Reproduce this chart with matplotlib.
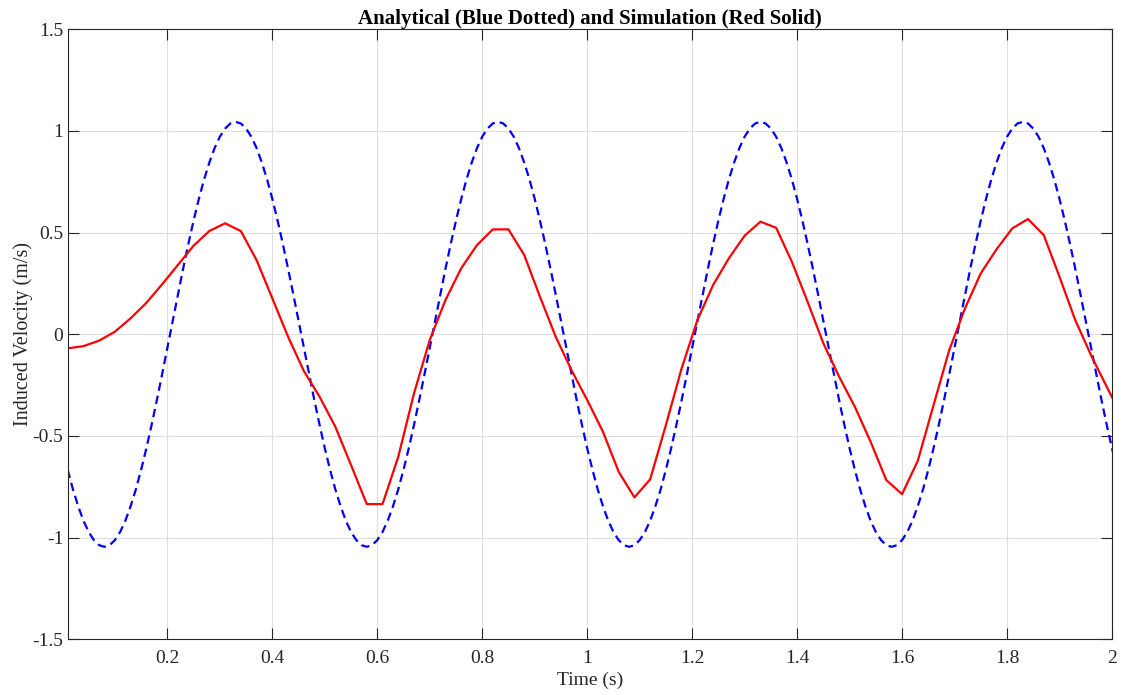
#%% libraries
import matplotlib
matplotlib.use("Agg")
import matplotlib.pyplot as plt
import numpy as np

#%% data
# simulation samples, one every 0.03 s starting at 0.01 s
t_sim = np.round(0.01 + 0.03 * np.arange(68), 2)
v_sim = [-0.069, -0.058, -0.031, 0.013, 0.079, 0.155, 0.246, 0.341, 0.436, 0.508,
         0.546, 0.508, 0.365, 0.177, -0.012, -0.180, -0.307, -0.454, -0.643, -0.835,
         -0.835, -0.602, -0.290, -0.028, 0.169, 0.325, 0.439, 0.516, 0.516, 0.390,
         0.185, -0.012, -0.176, -0.323, -0.479, -0.676, -0.802, -0.713, -0.446, -0.167,
         0.070, 0.243, 0.374, 0.485, 0.554, 0.524, 0.357, 0.160, -0.044, -0.208,
         -0.356, -0.528, -0.717, -0.786, -0.622, -0.348, -0.077, 0.128, 0.300, 0.418,
         0.521, 0.567, 0.488, 0.283, 0.070, -0.102, -0.258, -0.410]

# analytical curve, one sample every 0.01 s starting at 0.01 s
t_ana = np.round(0.01 + 0.01 * np.arange(201), 2)
v_ana = [
    -0.666, -0.762, -0.845, -0.916, -0.972, -1.012, -1.037, -1.045, -1.037, -1.012,
    -0.972, -0.916, -0.845, -0.762, -0.666, -0.560, -0.445, -0.323, -0.196, -0.066,
    0.066, 0.196, 0.323, 0.445, 0.560, 0.666, 0.762, 0.845, 0.916, 0.972,
    1.012, 1.037, 1.045, 1.037, 1.012, 0.972, 0.916, 0.845, 0.762, 0.666,
    0.560, 0.445, 0.323, 0.196, 0.066, -0.066, -0.196, -0.323, -0.445, -0.560,
    -0.666, -0.762, -0.845, -0.916, -0.972, -1.012, -1.037, -1.045, -1.037, -1.012,
    -0.972, -0.916, -0.845, -0.762, -0.666, -0.560, -0.445, -0.323, -0.196, -0.066,
    0.066, 0.196, 0.323, 0.445, 0.560, 0.666, 0.762, 0.845, 0.916, 0.972,
    1.012, 1.037, 1.045, 1.037, 1.012, 0.972, 0.916, 0.845, 0.762, 0.666,
    0.560, 0.445, 0.323, 0.196, 0.066, -0.066, -0.196, -0.323, -0.445, -0.560,
    -0.666, -0.762, -0.845, -0.916, -0.972, -1.012, -1.037, -1.045, -1.037, -1.012,
    -0.972, -0.916, -0.845, -0.762, -0.666, -0.560, -0.445, -0.323, -0.196, -0.066,
    0.066, 0.196, 0.323, 0.445, 0.560, 0.666, 0.762, 0.845, 0.916, 0.972,
    1.012, 1.037, 1.045, 1.037, 1.012, 0.972, 0.916, 0.845, 0.762, 0.666,
    0.560, 0.445, 0.323, 0.196, 0.066, -0.066, -0.196, -0.323, -0.445, -0.560,
    -0.666, -0.762, -0.845, -0.916, -0.972, -1.012, -1.037, -1.045, -1.037, -1.012,
    -0.972, -0.916, -0.845, -0.762, -0.666, -0.560, -0.445, -0.323, -0.196, -0.066,
    0.066, 0.196, 0.323, 0.445, 0.560, 0.666, 0.762, 0.845, 0.916, 0.972,
    1.012, 1.037, 1.045, 1.037, 1.012, 0.972, 0.916, 0.845, 0.762, 0.666,
    0.560, 0.445, 0.323, 0.196, 0.066, -0.066, -0.196, -0.323, -0.445, -0.560,
    -0.666]

x_ticks = [0.2, 0.4, 0.6, 0.8, 1.0, 1.2, 1.4, 1.6, 1.8, 2.0]
x_labels = ["0.2", "0.4", "0.6", "0.8", "1", "1.2", "1.4", "1.6", "1.8", "2"]
y_ticks = [-1.5, -1.0, -0.5, 0.0, 0.5, 1.0, 1.5]
y_labels = ["-1.5", "-1", "-0.5", "0", "0.5", "1", "1.5"]

#%% plotting
plt.rcParams['font.family'] = ['Liberation Serif', 'DejaVu Serif']

fig = plt.figure(figsize=(11.24, 6.95), dpi=100)
ax = fig.add_axes([0.0602, 0.0801, 0.9291, 0.8777])

ax.plot(t_ana, v_ana, color='blue', lw=1.6, ls=(0, (3.8, 2.3)))
ax.plot(t_sim, v_sim, color='red', lw=1.6)

ax.set_xlim(0.01, 2.0)
ax.set_ylim(-1.5, 1.5)
ax.set_xticks(x_ticks)
ax.set_xticklabels(x_labels)
ax.set_yticks(y_ticks)
ax.set_yticklabels(y_labels)

ax.grid(True, color='#dedede', lw=0.8)
ax.set_axisbelow(True)
ax.tick_params(direction='in', length=8, width=0.8, colors='#262626',
               top=True, right=True, labelsize=14)
ax.tick_params(axis='x', pad=8)
ax.tick_params(axis='y', pad=3)
for s in ax.spines.values():
    s.set_color('#262626')
    s.set_linewidth(0.8)

ax.set_xlabel("Time (s)", fontsize=14, color='#262626', labelpad=3)
ax.set_ylabel("Induced Velocity (m/s)", fontsize=14.5, color='#262626', labelpad=0)
ax.set_title("Analytical (Blue Dotted) and Simulation (Red Solid)",
             fontsize=15, fontweight='bold', pad=4)

fig.savefig("out.png", dpi=100)
